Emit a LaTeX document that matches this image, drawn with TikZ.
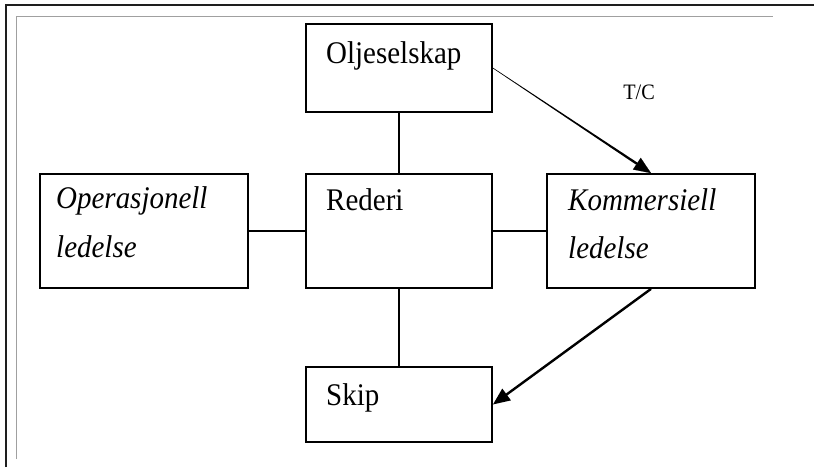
\documentclass[tikz,border=0pt]{standalone}
\usepackage{fontspec}
\setmainfont{Liberation Serif}
\newfontfamily\boxfont[FakeStretch=0.92]{Liberation Serif}
\usetikzlibrary{arrows.meta,calc}
\definecolor{framedark}{RGB}{30,30,30}
\definecolor{framegray}{RGB}{160,160,160}
\begin{document}
\begin{tikzpicture}[x=1pt,y=-1pt,
  box/.style={draw=black,line width=1.8pt,rectangle,inner sep=0pt,minimum width=#1},
  box/.default=186pt,
  lbl/.style={anchor=base west,inner sep=0pt,font=\boxfont\fontsize{31.5}{36}\selectfont},
  ilbl/.style={lbl,font=\boxfont\fontsize{31.5}{36}\selectfont\itshape},
  link/.style={line width=1.6pt},
  heavy/.style={line width=2.4pt,-{Triangle[length=17pt,width=14pt]}}]
  \useasboundingbox (0,0) rectangle (814,467);
  \fill[white] (0,0) rectangle (814,467);

  % page frame
  \draw[framedark,line width=2.4pt] (6,467) -- (6,5) -- (814,5);
  \draw[framegray,line width=1pt] (16,459) -- (16,16) -- (773,16);

  % boxes
  \node[box,minimum height=88pt] (olje) at (399,68) {};
  \node[box,minimum height=114pt] (rederi) at (399,231) {};
  \node[box=208pt,minimum height=114pt] (oper) at (144,231) {};
  \node[box=208pt,minimum height=114pt] (komm) at (651,231) {};
  \node[box,minimum height=75pt] (skip) at (399,404.5) {};

  % texts
  \node[lbl] (olje-t) at (326,63) {Oljeselskap};
  \node[lbl] (rederi-t) at (326,210) {Rederi};
  \node[ilbl] (oper-t1) at (56,208) {Operasjonell};
  \node[ilbl] (oper-t2) at (56,257) {ledelse};
  \node[ilbl] (komm-t1) at (568,210) {Kommersiell};
  \node[ilbl] (komm-t2) at (568,258) {ledelse};
  \node[lbl] (skip-t) at (326,405) {Skip};
  \node[inner sep=0pt,font=\boxfont\fontsize{22}{25}\selectfont] (tc) at (639,92) {T/C};

  % plain links
  \draw[link] (olje.south) -- (rederi.north);
  \draw[link] (rederi.south) -- (skip.north);
  \draw[link] (oper.east) -- (rederi.west);
  \draw[link] (rederi.east) -- (komm.west);

  % tapered T/C arrow
  \coordinate (tcbase) at ($(komm.north)!17pt!(olje.east)$);
  \fill ($(olje.east)!0.3pt!90:(komm.north)$) -- ($(olje.east)!0.3pt!-90:(komm.north)$)
        -- ($(tcbase)!1.2pt!90:(olje.east)$) -- ($(tcbase)!1.2pt!-90:(olje.east)$) -- cycle;
  \draw[line width=0.1pt,-{Triangle[length=17pt,width=14pt]}] (tcbase) -- (komm.north);

  % heavy arrow
  \draw[heavy] (komm.south) -- (skip.east);
\end{tikzpicture}
\end{document}
